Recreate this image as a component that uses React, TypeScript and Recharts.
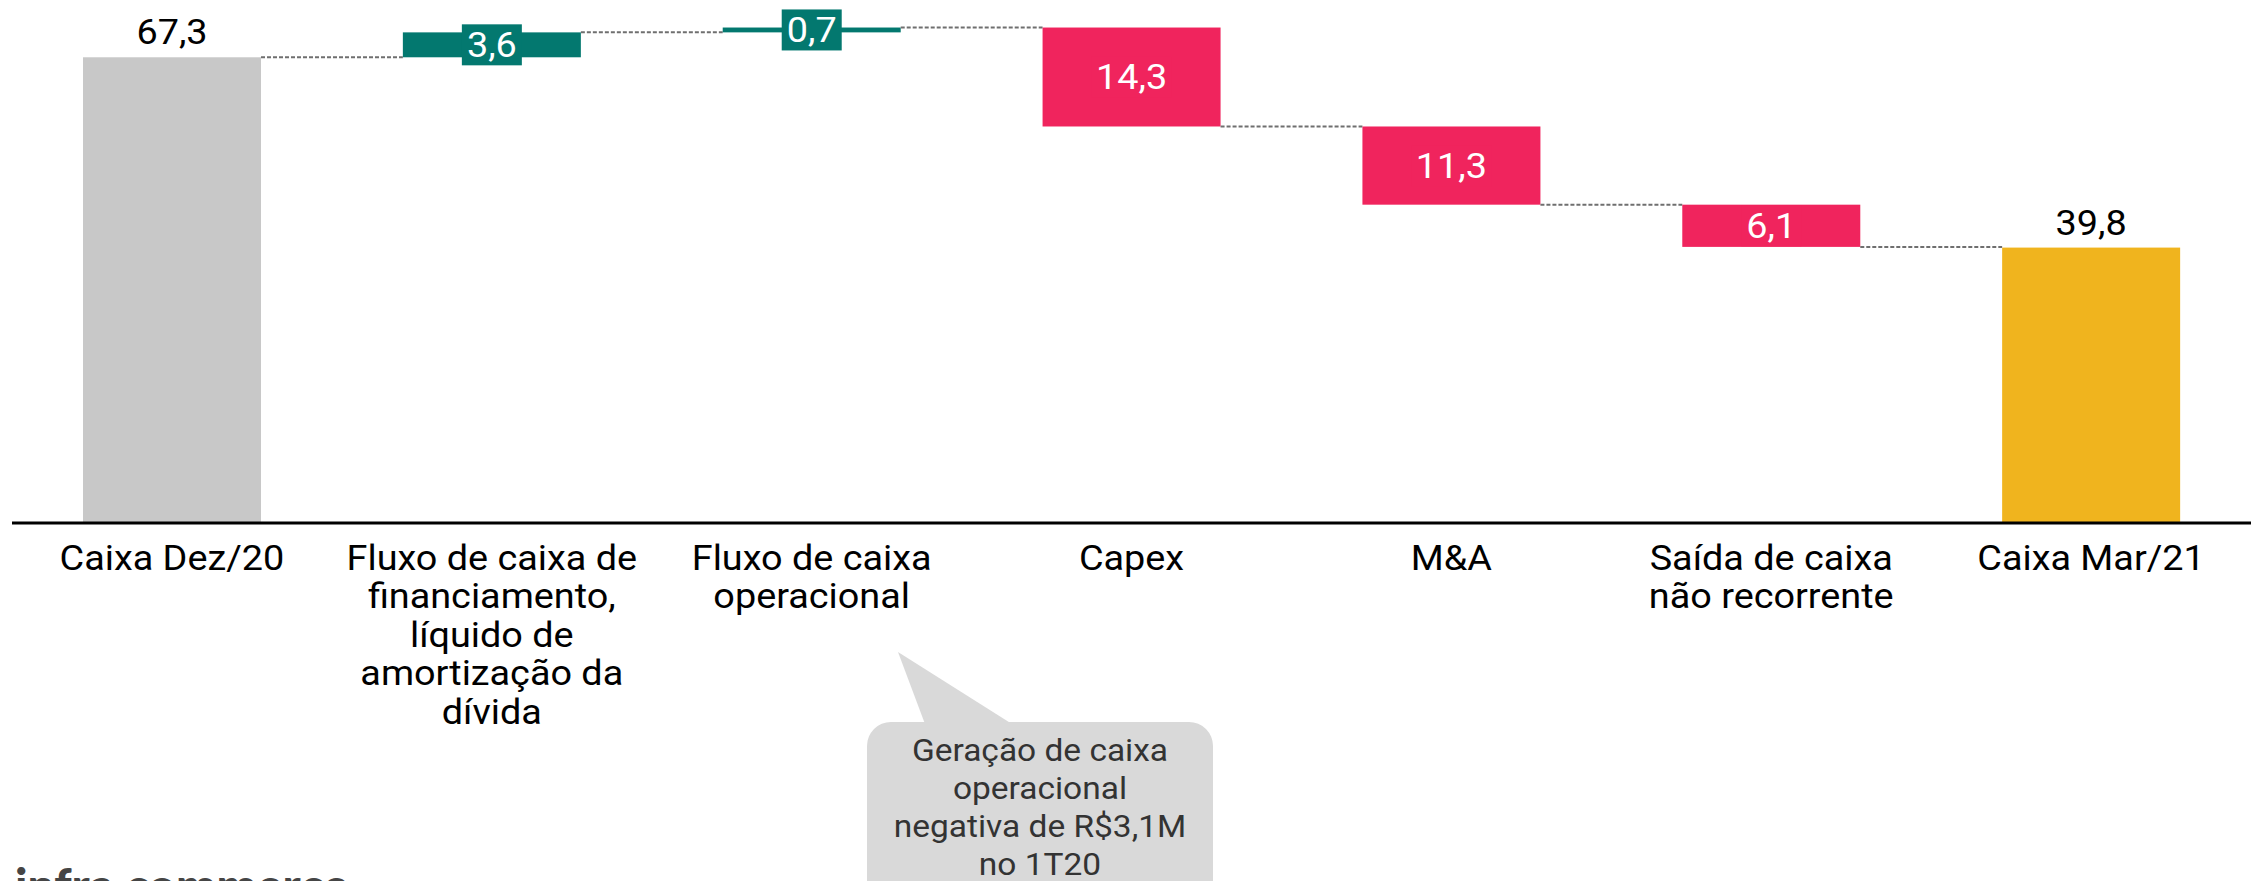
import React from 'react';
import { BarChart, Bar, XAxis, YAxis, LabelList } from 'recharts';

const CATEGORIES = [
    'Caixa Dez/20',
    'Fluxo de caixa de financiamento',
    'Fluxo de caixa operacional',
    'Capex',
    'M&A',
    'Saída de caixa não recorrente',
    'Caixa Mar/21',
];

const TICK_LINES = [
    ['Caixa Dez/20'],
    ['Fluxo de caixa de', 'financiamento,', 'líquido de', 'amortização da', 'dívida'],
    ['Fluxo de caixa', 'operacional'],
    ['Capex'],
    ['M&A'],
    ['Saída de caixa', 'não recorrente'],
    ['Caixa Mar/21'],
];

const VALUES = [67.3, 3.6, 0.7, -14.3, -11.3, -6.1, 39.8];
const KINDS = ['total', 'up', 'up', 'down', 'down', 'down', 'total'];
const BAR_COLORS = ['#c8c8c8', '#03786f', '#03786f', '#f0245d', '#f0245d', '#f0245d', '#f0b41e'];

const NOTE_LINES = ['Geração de caixa', 'operacional', 'negativa de R$3,1M', 'no 1T20'];

const W = 2251;
const H = 881;
const LEFT = 12;
const BAR_SIZE = 178;
const GAP = (W - LEFT) / CATEGORIES.length - BAR_SIZE;
const STRETCH = 1.08; // text in the source is a bit wider than plain Roboto

// base (invisible) + size (visible) for a stacked waterfall
let running = 0;
const data = CATEGORIES.map((name, i) => {
    const v = VALUES[i];
    let base = 0;
    let size = Math.abs(v);
    if (KINDS[i] === 'total') {
        running = v;
    } else if (KINDS[i] === 'up') {
        base = running;
        running += v;
    } else {
        running -= Math.abs(v);
        base = running;
    }
    return { name, base, size, value: v, kind: KINDS[i], color: BAR_COLORS[i] };
});

const fmt = (v: number) => Math.abs(v).toFixed(1).replace('.', ',');
const wide = (cx: number) => `translate(${cx},0) scale(${STRETCH},1) translate(${-cx},0)`;

function WaterfallBar(props: any) {
    const { x, y, width, height, index, payload } = props;
    const last = index === data.length - 1;
    const level = payload.kind === 'down' ? y + height : y;
    return (
        <g>
            <rect x={x} y={y} width={width} height={height} fill={payload.color} />
            {!last && (
                <line
                    x1={x + width}
                    x2={x + width + GAP}
                    y1={level}
                    y2={level}
                    stroke="#6f6f6f"
                    strokeWidth={2}
                    strokeDasharray="4 2"
                />
            )}
        </g>
    );
}

function ValueLabel(props: any) {
    const { x, y, width, height, index } = props;
    const d = data[index];
    const text = fmt(d.value);
    const cx = x + width / 2;
    if (d.kind === 'total') {
        return (
            <text x={cx} y={y - 13} transform={wide(cx)} textAnchor="middle" fontSize={35} fill="#000" fontFamily="Roboto">
                {text}
            </text>
        );
    }
    const cy = y + height / 2;
    const bw = text.length * 20;
    return (
        <g>
            <rect x={cx - bw / 2} y={cy - 20.5} width={bw} height={41} fill={d.color} />
            <text x={cx} y={cy + 12.5} transform={wide(cx)} textAnchor="middle" fontSize={35} fill="#fff" fontFamily="Roboto">
                {text}
            </text>
        </g>
    );
}

function CategoryTick(props: any) {
    const { x, y, index } = props;
    const lines = TICK_LINES[index] || [];
    return (
        <text x={x} y={y} transform={wide(x)} textAnchor="middle" fontSize={35} fill="#000" fontFamily="Roboto">
            {lines.map((l, i) => (
                <tspan key={i} x={x} y={y + 47 + i * 38.5}>
                    {l}
                </tspan>
            ))}
        </text>
    );
}

export default function App() {
    return (
        <div style={{ position: 'absolute', left: 0, top: 0, width: W, height: H, overflow: 'hidden', background: '#fff', fontFamily: 'Roboto' }}>
            <BarChart width={W} height={H} data={data} margin={{ top: 4, right: 0, bottom: 0, left: LEFT }} barSize={BAR_SIZE}>
                <YAxis hide domain={[0, 75]} />
                <XAxis
                    dataKey="name"
                    height={358}
                    interval={0}
                    tickLine={false}
                    tickSize={0}
                    tickMargin={0}
                    axisLine={{ stroke: '#000', strokeWidth: 3 }}
                    tick={<CategoryTick />}
                />
                <Bar dataKey="base" stackId="w" fill="transparent" isAnimationActive={false} />
                <Bar dataKey="size" stackId="w" shape={<WaterfallBar />} isAnimationActive={false}>
                    <LabelList dataKey="size" content={<ValueLabel />} />
                </Bar>
            </BarChart>

            <svg width={W} height={H} style={{ position: 'absolute', left: 0, top: 0, pointerEvents: 'none' }}>
                <polygon points="898,652 925,724 1012,724" fill="#d9d9d9" />
                <rect x={867} y={722} width={346} height={200} rx={24} fill="#d9d9d9" />
                {NOTE_LINES.map((l, i) => (
                    <text key={i} x={1040} y={761 + i * 38} transform={wide(1040)} textAnchor="middle" fontSize={31} fill="#333" fontFamily="Roboto">
                        {l}
                    </text>
                ))}
                <text x={15} y={903} fontSize={48} fontWeight={900} fill="#454545" fontFamily="Lato">
                    infra commerce
                </text>
            </svg>
        </div>
    );
}
